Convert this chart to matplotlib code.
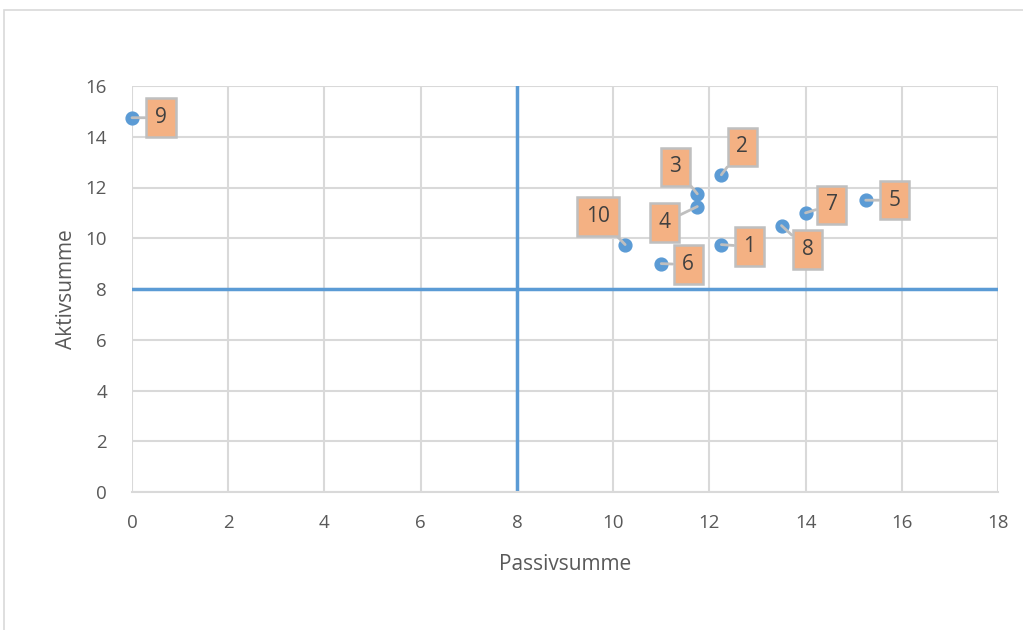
import matplotlib.pyplot as plt
from matplotlib.patches import Rectangle

# Einflussmatrix: Passivsumme (x) gegen Aktivsumme (y)
labels = ['1', '2', '3', '4', '5', '6', '7', '8', '9', '10']
passiv = [12.25, 12.25, 11.75, 11.75, 15.25, 11.0, 14.0, 13.5, 0.0, 10.25]
aktiv = [9.75, 12.5, 11.75, 11.25, 11.5, 9.0, 11.0, 10.5, 14.75, 9.75]
grenze_x = 8
grenze_y = 8

# Versatz der Beschriftungen (Pixel)
offsets = {
    '1': (28, -2), '2': (21, 28), '3': (-22, 27), '4': (-33, -16),
    '5': (29, 0), '6': (27, -1), '7': (26, 8), '8': (26, -24),
    '9': (29, 0), '10': (-27, 28),
}

plt.rcParams['font.family'] = ['Open Sans', 'DejaVu Sans']
grau = '#595959'
blau = '#5B9BD5'

fig = plt.figure(figsize=(10.23, 6.30), dpi=100)
ax = fig.add_axes([132 / 1023, 138 / 630, 866 / 1023, 406 / 630])

# Rahmen des Diagrammbereichs
fig.add_artist(Rectangle((4 / 1023, -0.1), 1.2, (620 / 630) + 0.1,
                         transform=fig.transFigure, fill=False,
                         edgecolor='#D9D9D9', linewidth=1.2))

ax.set_xlim(0, 18)
ax.set_ylim(0, 16)
ax.set_xticks(range(0, 19, 2))
ax.set_yticks(range(0, 17, 2))
ax.grid(True, color='#D9D9D9', linewidth=1.5)
ax.set_axisbelow(True)
for side in ['top', 'right', 'left']:
    ax.spines[side].set_visible(False)
ax.spines['bottom'].set_color('#D9D9D9')
ax.spines['bottom'].set_linewidth(1.5)
ax.tick_params(length=0, labelsize=13.5, labelcolor=grau)
ax.tick_params(axis='x', pad=16)
ax.tick_params(axis='y', pad=18)

ax.axvline(grenze_x, color=blau, linewidth=2.5, zorder=2)
ax.axhline(grenze_y, color=blau, linewidth=2.5, zorder=2)

ax.scatter(passiv, aktiv, s=85, color=blau, zorder=4, clip_on=False)

for lab, x, y in zip(labels, passiv, aktiv):
    dx, dy = offsets[lab]
    ax.annotate(lab, (x, y), xytext=(dx, dy), textcoords='offset pixels',
                ha='center', va='center', fontsize=15, color='#404040',
                bbox=dict(boxstyle='square,pad=0.42', fc='#F4B183',
                          ec='#BFBFBF', lw=1.8),
                arrowprops=dict(arrowstyle='-', color='#BFBFBF', lw=2,
                                shrinkA=0, shrinkB=0),
                zorder=5, annotation_clip=False)

ax.set_xlabel('Passivsumme', fontsize=15, color=grau, labelpad=16)
ax.set_ylabel('Aktivsumme', fontsize=15, color=grau, labelpad=6)

fig.savefig('out.png', dpi=100)
